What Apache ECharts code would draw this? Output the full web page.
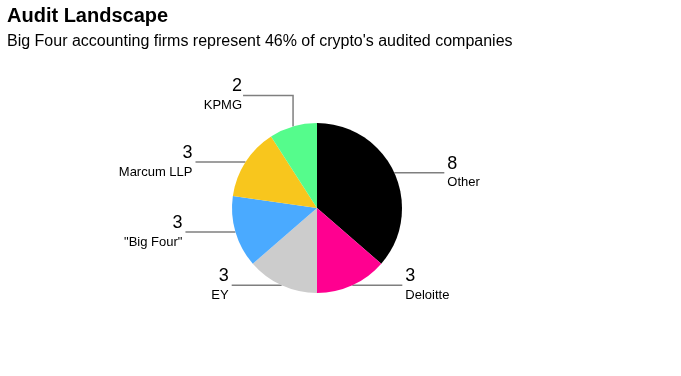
<!DOCTYPE html>
<html>
<head>
<meta charset="utf-8"/>
<title>Audit Landscape</title>
<script src="https://cdn.jsdelivr.net/npm/echarts@6/dist/echarts.min.js"></script>
<style>
  html, body { margin: 0; padding: 0; background: #fff; }
  #main { width: 681px; height: 376px; }
</style>
</head>
<body>
<div id="main"></div>
<script>
// auditors and number of audited crypto companies
var firms = ['Other', 'Deloitte', 'EY', '"Big Four"', 'Marcum LLP', 'KPMG']
var counts = [8, 3, 3, 3, 3, 2]
var colors = ['#000000', '#ff0090', '#cccccc', '#4aaaff', '#f8c61d', '#55fc8c']

var chart = echarts.init(document.getElementById('main'))

var pieData = firms.map(function (name, i) {
    return { name: name, value: counts[i], itemStyle: { color: colors[i] } }
})

chart.setOption({
    animation: false,
    textStyle: { fontFamily: 'Liberation Sans, Arial, sans-serif' },
    title: {
        left: 7,
        top: 6,
        padding: 0,
        text: 'Audit Landscape',
        subtext: "Big Four accounting firms represent 46% of crypto's audited companies",
        itemGap: 8,
        textStyle: { fontSize: 20, fontWeight: 'bold', color: '#000' },
        subtextStyle: { fontSize: 16, color: '#000' }
    },
    series: [{
        type: 'pie',
        center: [317, 208],
        radius: 85,
        startAngle: 90,
        avoidLabelOverlap: false,
        data: pieData,
        label: {
            formatter: '{v|{c}}\n{n|{b}}',
            distanceToLabelLine: 3,
            rich: {
                v: { fontSize: 18, lineHeight: 20, color: '#000' },
                n: { fontSize: 13, lineHeight: 18, color: '#000' }
            }
        },
        labelLine: {
            length: 0,
            length2: 50,
            lineStyle: { color: '#7f7f7f', width: 1.5 }
        },
        // KPMG label goes up first, then left
        labelLayout: function (p) {
            if (p.dataIndex !== 5 || !p.labelLinePoints) return
            var a = p.labelLinePoints[0]
            var up = a[1] - 31
            var end = a[0] - 50
            return {
                x: end - 1,
                y: up,
                align: 'right',
                verticalAlign: 'middle',
                labelLinePoints: [[a[0], a[1]], [a[0], up], [end, up]]
            }
        }
    }]
})
</script>
</body>
</html>
